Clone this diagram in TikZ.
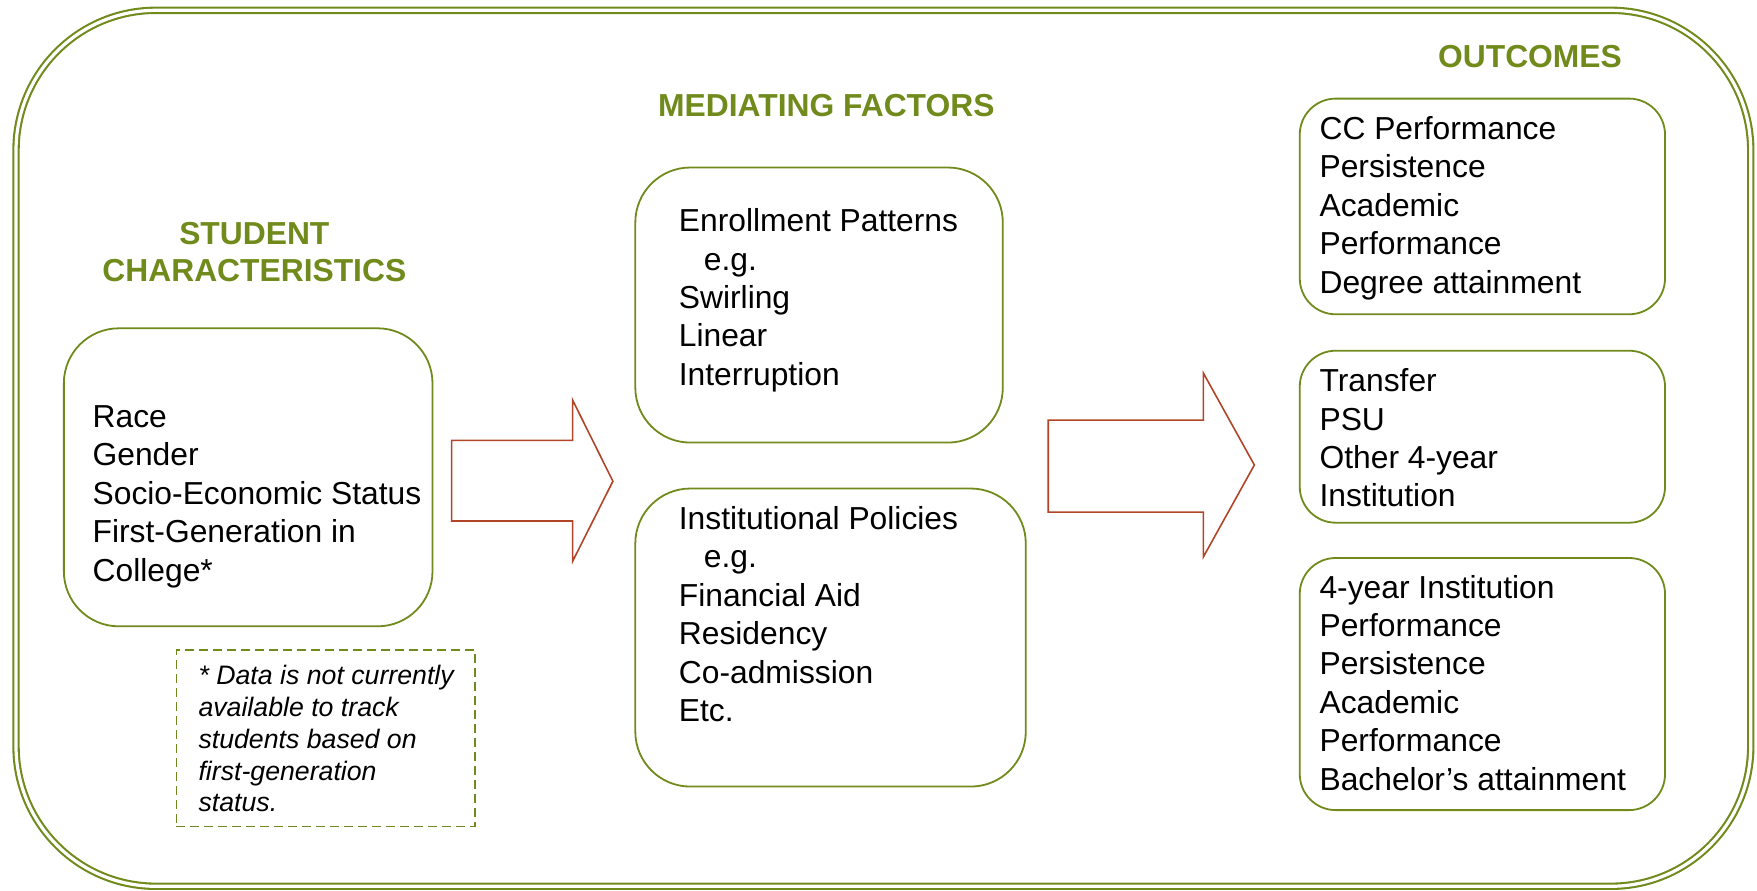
\documentclass[tikz,border=0pt]{standalone}
\usepackage{fontspec}
\setmainfont{Liberation Sans}
\usetikzlibrary{fit}
\definecolor{framegreen}{RGB}{112,138,28}
\definecolor{arrowred}{RGB}{178,68,40}
\begin{document}
\begin{tikzpicture}[x=1.1205pt,y=-1.1205pt,
  box/.style={draw=framegreen, line width=1.8pt, rounded corners=55pt, inner sep=0pt},
  obox/.style={draw=framegreen, line width=1.8pt, rounded corners=36pt, inner sep=0pt},
  notebox/.style={draw=framegreen, line width=1.6pt, dash pattern=on 9pt off 5pt, inner sep=0pt},
  body/.style={anchor=base west, inner sep=0pt, font=\fontsize{31.8}{38.4}\selectfont},
  notetext/.style={anchor=base west, inner sep=0pt, font=\fontsize{26.7}{31.7}\selectfont\itshape},
  head/.style={anchor=base, inner sep=0pt, text=framegreen, font=\fontsize{31.8}{37}\selectfont\bfseries},
  blockarrow/.style={draw=arrowred, line width=1.6pt, line join=miter}]
\useasboundingbox (0,0) rectangle (1568.1,795.2);

% outer double frame
\draw[framegreen, line width=2.1pt, double=white, double distance=3.2pt, rounded corners=140pt]
  (14.3,9.2) rectangle (1562.5,791);

% headings
\node[head] (hstud) at (227,218) {\begin{tabular}[t]{@{}c@{}}STUDENT\\CHARACTERISTICS\end{tabular}};
\node[head] (hmed) at (737.5,104) {MEDIATING FACTORS};
\node[head] (hout) at (1365.5,60) {OUTCOMES};

% boxes
\node[box, fit={(57,293) (386,559)}] (bstud) {};
\node[notebox, fit={(157.5,580) (424,737.5)}] (bnote) {};
\node[box, fit={(567,149.5) (895,395)}] (benroll) {};
\node[box, fit={(567,436) (915.5,702)}] (binst) {};
\node[obox, fit={(1160,88) (1486,280.5)}] (bcc) {};
\node[obox, fit={(1160,313) (1486,466.5)}] (btrans) {};
\node[obox, fit={(1160,498) (1486,723)}] (bfour) {};

% texts
\node[body] (tstud) at (82.5,381.6) {\begin{tabular}[t]{@{}l@{}}Race\\Gender\\Socio-Economic Status\\First-Generation in\\College*\end{tabular}};
\node[notetext] (tnote) at (177,611.3) {\begin{tabular}[t]{@{}l@{}}* Data is not currently\\available to track\\students based on\\first-generation\\status.\end{tabular}};
\node[body] (tenroll) at (605.7,206.7) {\begin{tabular}[t]{@{}l@{}}Enrollment Patterns\\\hspace*{25pt}e.g.\\Swirling\\Linear\\Interruption\end{tabular}};
\node[body] (tinst) at (605.7,472.5) {\begin{tabular}[t]{@{}l@{}}Institutional Policies\\\hspace*{25pt}e.g.\\Financial Aid\\Residency\\Co-admission\\Etc.\end{tabular}};
\node[body] (tcc) at (1177.5,124.5) {\begin{tabular}[t]{@{}l@{}}CC Performance\\Persistence\\Academic\\Performance\\Degree attainment\end{tabular}};
\node[body] (ttrans) at (1177.5,349.6) {\begin{tabular}[t]{@{}l@{}}Transfer\\PSU\\Other 4-year\\Institution\end{tabular}};
\node[body] (tfour) at (1177.5,533.8) {\begin{tabular}[t]{@{}l@{}}4-year Institution\\Performance\\Persistence\\Academic\\Performance\\Bachelor’s attainment\end{tabular}};

% block arrows
\draw[blockarrow] (403,393) -- (511,393) -- (511,357) -- (547,429.5) -- (511,501) -- (511,465) -- (403,465) -- cycle;
\draw[blockarrow] (935.5,375) -- (1074,375) -- (1074,333) -- (1119.5,415) -- (1074,497) -- (1074,457) -- (935.5,457) -- cycle;
\end{tikzpicture}
\end{document}
